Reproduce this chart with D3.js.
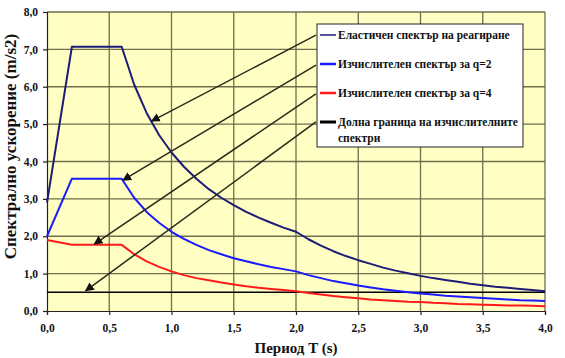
<!DOCTYPE html>
<html>
<head>
<meta charset="utf-8">
<script src="https://cdn.jsdelivr.net/npm/d3@7"></script>
<style>
  body { margin: 0; background: #fff; }
  svg { display: block; }
  text { font-family: "Liberation Serif", "Times New Roman", serif; font-weight: bold; fill: #111; }
</style>
</head>
<body>
<svg id="chart" width="565" height="358"></svg>
<script>
// period T (s)
const periods = [0, 0.2, 0.6, 0.7, 0.8, 0.9, 1.0, 1.1, 1.2, 1.3, 1.4, 1.5, 1.6, 1.7, 1.8, 1.9, 2.0,
  2.1, 2.2, 2.3, 2.4, 2.5, 2.6, 2.7, 2.8, 2.9, 3.0, 3.1, 3.2, 3.3, 3.4, 3.5, 3.6, 3.7, 3.8, 3.9, 4.0];
// elastic response spectrum
const elastic = [2.90, 7.07, 7.07, 6.06, 5.30, 4.71, 4.24, 3.86, 3.54, 3.26, 3.03, 2.83, 2.65, 2.50, 2.36, 2.23, 2.12,
  1.92, 1.75, 1.60, 1.47, 1.36, 1.26, 1.16, 1.08, 1.01, 0.94, 0.88, 0.83, 0.78, 0.73, 0.69, 0.65, 0.62, 0.59, 0.56, 0.53];
// design spectrum q=2
const designQ2 = [2.00, 3.54, 3.54, 3.03, 2.65, 2.36, 2.12, 1.93, 1.77, 1.63, 1.52, 1.41, 1.33, 1.25, 1.18, 1.12, 1.06,
  0.96, 0.88, 0.80, 0.74, 0.68, 0.63, 0.58, 0.54, 0.50, 0.47, 0.44, 0.41, 0.39, 0.37, 0.35, 0.33, 0.31, 0.29, 0.28, 0.27];
// design spectrum q=4
const designQ4 = [1.90, 1.77, 1.77, 1.52, 1.33, 1.18, 1.06, 0.96, 0.88, 0.82, 0.76, 0.71, 0.66, 0.62, 0.59, 0.56, 0.53,
  0.48, 0.44, 0.40, 0.37, 0.34, 0.31, 0.29, 0.27, 0.25, 0.24, 0.22, 0.21, 0.19, 0.18, 0.17, 0.16, 0.15, 0.15, 0.14, 0.13];
// lower bound
const lowerBoundT = [0, 4.0];
const lowerBound = [0.5, 0.5];

const xTicks = [0, 0.5, 1.0, 1.5, 2.0, 2.5, 3.0, 3.5, 4.0];
const yTicks = [0, 1, 2, 3, 4, 5, 6, 7, 8];

const legendLabels = [
  ['Еластичен спектър на реагиране'],
  ['Изчислителен спектър за q=2'],
  ['Изчислителен спектър за q=4'],
  ['Долна граница на изчислителните', 'спектри']
];
const seriesColors = ['#1c1c78', '#1a1aff', '#ff1a1a', '#000000'];
const seriesWidths = [2, 2, 2, 1.5];

// arrows: start (at legend) and tip (on curve), in data units
const arrowFrom = [[2.16, 7.38], [2.16, 6.58], [2.16, 5.81], [2.16, 5.06]];
const arrowTo = [[0.84, 5.08], [0.61, 3.50], [0.38, 1.79], [0.31, 0.54]];

const svg = d3.select('#chart');
const x = d3.scaleLinear().domain([0, 4]).range([47, 545]);
const y = d3.scaleLinear().domain([0, 8]).range([311, 12]);
const fmt = d => d3.format('.1f')(d).replace('.', ',');

// plot background
svg.append('rect')
  .attr('x', x(0)).attr('y', y(8))
  .attr('width', x(4) - x(0)).attr('height', y(0) - y(8))
  .attr('fill', '#ffffc4');

// grid
svg.append('g').selectAll('line').data(yTicks.slice(1)).join('line')
  .attr('x1', x(0)).attr('x2', x(4))
  .attr('y1', d => y(d)).attr('y2', d => y(d))
  .attr('stroke', '#6e6e4c').attr('stroke-width', 1.3);
svg.append('g').selectAll('line').data(xTicks.slice(1)).join('line')
  .attr('y1', y(0)).attr('y2', y(8))
  .attr('x1', d => x(d)).attr('x2', d => x(d))
  .attr('stroke', '#6e6e4c').attr('stroke-width', 1.3);

// axes
const yAxis = svg.append('g').attr('transform', `translate(${x(0)},0)`)
  .call(d3.axisLeft(y).tickValues(yTicks).tickFormat(fmt).tickSize(4).tickPadding(5));
const xAxis = svg.append('g').attr('transform', `translate(0,${y(0)})`)
  .call(d3.axisBottom(x).tickValues(xTicks).tickFormat(fmt).tickSize(4).tickPadding(9));
[xAxis, yAxis].forEach(a => {
  a.selectAll('path, line').attr('stroke', '#222').attr('stroke-width', 1.2);
  a.selectAll('text').attr('font-size', 11.5).attr('fill', '#111')
    .attr('font-family', '"Liberation Serif", serif').attr('font-weight', 'bold');
});

// series
const line = d3.line().x(d => x(d[0])).y(d => y(d[1]));
const seriesData = [
  periods.map((t, i) => [t, elastic[i]]),
  periods.map((t, i) => [t, designQ2[i]]),
  periods.map((t, i) => [t, designQ4[i]]),
  lowerBoundT.map((t, i) => [t, lowerBound[i]])
];
[3, 2, 1, 0].forEach(i => {
  svg.append('path').datum(seriesData[i])
    .attr('d', line).attr('fill', 'none')
    .attr('stroke', seriesColors[i]).attr('stroke-width', seriesWidths[i])
    .attr('stroke-linejoin', 'round');
});

// arrows
svg.append('defs').append('marker')
  .attr('id', 'head').attr('viewBox', '0 0 10 10')
  .attr('refX', 9).attr('refY', 5)
  .attr('markerWidth', 9).attr('markerHeight', 9)
  .attr('markerUnits', 'userSpaceOnUse')
  .attr('orient', 'auto')
  .append('path').attr('d', 'M0,0 L10,5 L0,10 Z').attr('fill', '#111');
arrowFrom.forEach((s, i) => {
  svg.append('line')
    .attr('x1', x(s[0])).attr('y1', y(s[1]))
    .attr('x2', x(arrowTo[i][0])).attr('y2', y(arrowTo[i][1]))
    .attr('stroke', '#2a2a1a').attr('stroke-width', 1.5)
    .attr('marker-end', 'url(#head)');
});

// legend
const lg = svg.append('g');
lg.append('rect').attr('x', 317).attr('y', 24).attr('width', 206).attr('height', 123)
  .attr('fill', '#fff').attr('stroke', '#222').attr('stroke-width', 1);
const legendY = [35, 64, 93, 122];
legendLabels.forEach((lines, i) => {
  lg.append('line').attr('x1', 320).attr('x2', 336)
    .attr('y1', legendY[i]).attr('y2', legendY[i])
    .attr('stroke', seriesColors[i]).attr('stroke-width', i === 0 ? 1.5 : i === 3 ? 3 : 2.5);
  lines.forEach((t, j) => {
    lg.append('text').attr('x', 338).attr('y', legendY[i] + 4 + j * 16)
      .attr('font-size', 11.5).text(t);
  });
});

// axis titles
svg.append('text').attr('x', x(2)).attr('y', 353)
  .attr('text-anchor', 'middle').attr('font-size', 15).text('Период T (s)');
svg.append('text')
  .attr('transform', `translate(16,${y(4.4)}) rotate(-90)`)
  .attr('text-anchor', 'middle').attr('font-size', 17).text('Спектрално ускорение (m/s2)');
</script>
</body>
</html>
